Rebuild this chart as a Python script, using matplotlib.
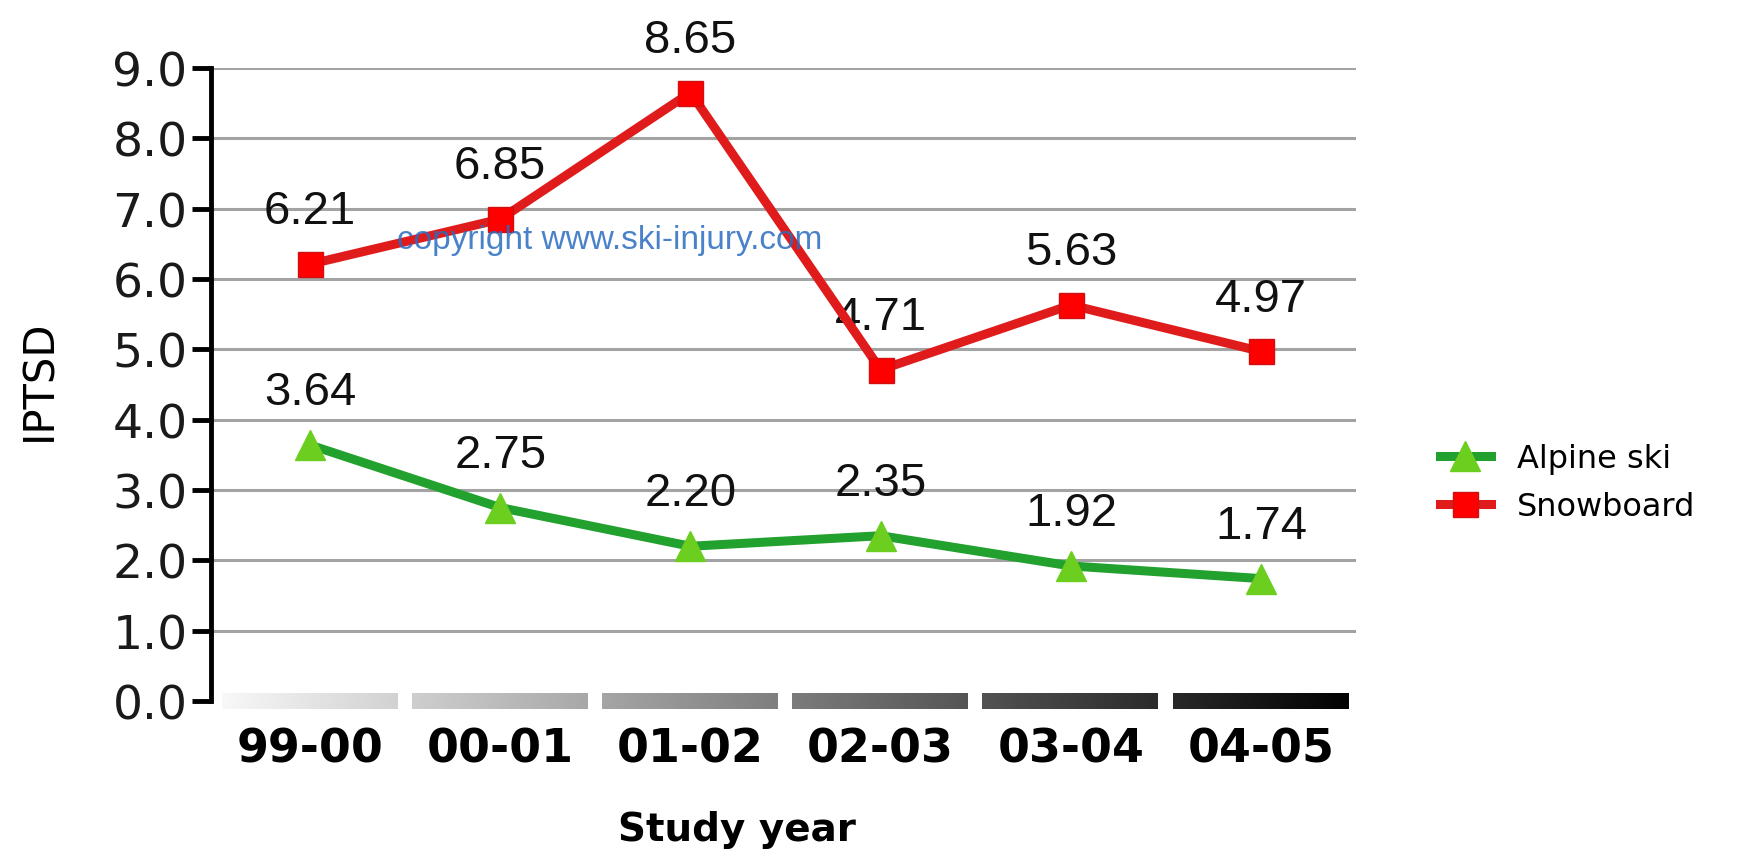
import numpy as np
import matplotlib.pyplot as plt
from matplotlib.lines import Line2D

# injuries per thousand skier days, by season
years = ['99-00', '00-01', '01-02', '02-03', '03-04', '04-05']
alpine = [3.64, 2.75, 2.20, 2.35, 1.92, 1.74]
snowboard = [6.21, 6.85, 8.65, 4.71, 5.63, 4.97]
yticks = [0, 1, 2, 3, 4, 5, 6, 7, 8, 9]

fig = plt.figure(figsize=(17.5, 8.62), dpi=100)
ax = fig.add_axes([0.1206, 0.1856, 0.6544, 0.7344])

x = np.arange(len(years))
ax.set_xlim(-0.52, 5.5)
ax.set_ylim(0, 9)

# horizontal grid
for v in yticks[1:]:
    ax.plot([-0.52, 5.5], [v, v], color='#a3a3a3', lw=2.2, zorder=1, solid_capstyle='butt')

# gray-to-black bars along the category axis
x0, x1 = -0.465, 5.455
cmap = plt.get_cmap('gray')
for i in range(len(years)):
    a = i - 0.465
    b = i + 0.455
    g0 = 0.97 - 0.96 * (a - x0) / (x1 - x0)
    g1 = 0.97 - 0.96 * (b - x0) / (x1 - x0)
    grad = np.linspace(g0, g1, 64).reshape(1, -1)
    ax.imshow(grad, cmap=cmap, vmin=0, vmax=1, aspect='auto',
              extent=(a, b, -0.11, 0.11), clip_on=False, zorder=2)

ax.plot(x, snowboard, color='#e01b1b', lw=6.5, zorder=4,
        marker='s', markersize=18, markerfacecolor='#ff0000', markeredgecolor='#d01010')
ax.plot(x, alpine, color='#22a12e', lw=6.5, zorder=4,
        marker='^', markersize=21, markerfacecolor='#6ccf1f', markeredgecolor='#6ccf1f')

for xi, v in zip(x, snowboard):
    ax.annotate('%.2f' % v, (xi, v), xytext=(0, 38), textcoords='offset points',
                ha='center', va='center', fontsize=34, family='Liberation Sans', color='#111111')
for xi, v in zip(x, alpine):
    ax.annotate('%.2f' % v, (xi, v), xytext=(0, 38), textcoords='offset points',
                ha='center', va='center', fontsize=34, family='Liberation Sans', color='#111111')

ax.text(1.575, 6.56, 'copyright www.ski-injury.com', color='#2a6cc0', alpha=0.85,
        fontsize=24, family='Liberation Sans', ha='center', va='center', zorder=5)

for s in ['top', 'right', 'bottom']:
    ax.spines[s].set_visible(False)
ax.spines['left'].set_linewidth(3.5)
ax.spines['left'].set_bounds(0, 9)

ax.set_yticks(yticks)
ax.set_yticklabels(['%.1f' % v for v in yticks], fontsize=34, color='#1a1a1a')
ax.tick_params(axis='y', length=14, width=3.5, pad=3)
ax.set_xticks(x)
ax.set_xticklabels(years, fontsize=33, fontweight='bold')
ax.tick_params(axis='x', length=0, pad=18)

ax.set_ylabel('IPTSD', fontsize=30)
ax.yaxis.set_label_coords(-0.132, 0.509)
ax.set_xlabel('Study year', fontsize=28, fontweight='bold')
ax.xaxis.set_label_coords(0.459, -0.172)

handles = [
    Line2D([], [], color='#22a12e', lw=6.5, marker='^', markersize=21,
           markerfacecolor='#6ccf1f', markeredgecolor='#6ccf1f'),
    Line2D([], [], color='#e01b1b', lw=6.5, marker='s', markersize=18,
           markerfacecolor='#ff0000', markeredgecolor='#d01010'),
]
ax.legend(handles, ['Alpine ski', 'Snowboard'], loc='center left',
          bbox_to_anchor=(1.073, 0.345), frameon=False, fontsize=23,
          handlelength=1.6, handletextpad=0.8, labelspacing=0.55, borderpad=0,
          borderaxespad=0)

fig.savefig('out.png', dpi=100, facecolor='white')
